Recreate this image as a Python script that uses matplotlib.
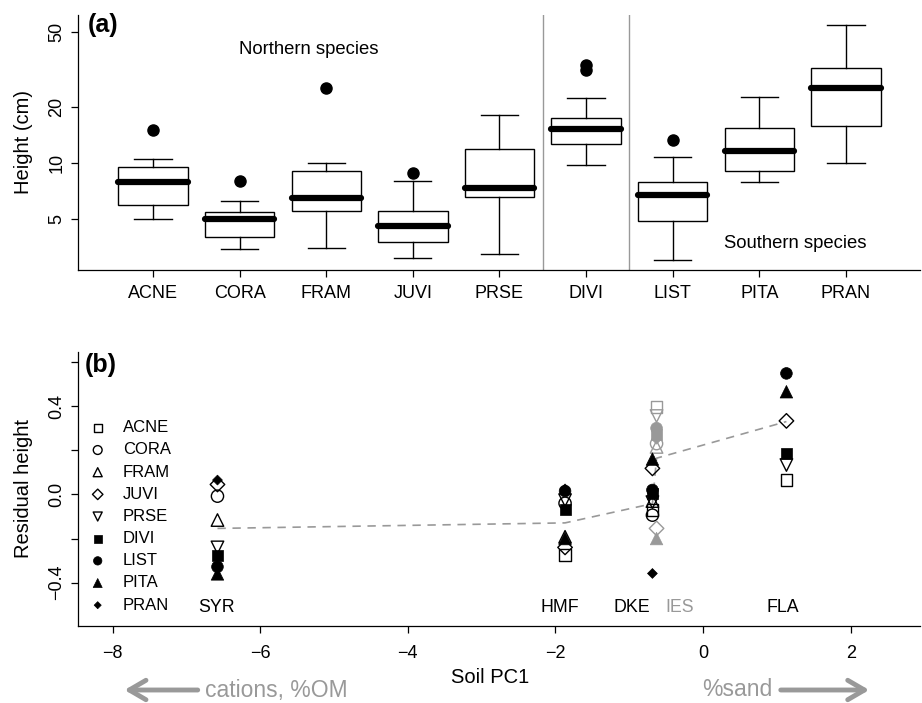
import numpy as np
import matplotlib
matplotlib.use('Agg')
import matplotlib.pyplot as plt
from matplotlib.ticker import NullLocator

plt.rcParams['font.family'] = ['Liberation Sans', 'DejaVu Sans']

# ---- panel (a): height boxplots (cm) ----
species = ['ACNE', 'CORA', 'FRAM', 'JUVI', 'PRSE', 'DIVI', 'LIST', 'PITA', 'PRAN']
whislo = [5.02, 3.47, 3.52, 3.12, 3.27, 9.75, 3.03, 7.91, 10.0]
q1 = [5.96, 4.04, 5.54, 3.79, 6.55, 12.6, 4.90, 9.06, 15.8]
med = [7.91, 5.02, 6.52, 4.59, 7.35, 15.2, 6.72, 11.6, 25.1]
q3 = [9.52, 5.45, 9.10, 5.52, 11.9, 17.3, 7.91, 15.3, 32.3]
whishi = [10.54, 6.29, 10.0, 8.04, 18.1, 22.2, 10.8, 22.6, 54.8]
fliers = [[15.1], [8.04], [25.1], [8.84], [], [31.4, 33.4], [13.3], [], []]

# ---- panel (b): residual height by site ----
sites = ['SYR', 'HMF', 'DKE', 'IES', 'FLA']
site_pc1 = [-6.58, -1.87, -0.686, -0.63, 1.13]
site_color = ['black', 'black', 'black', '#999999', 'black']
site_mean = [-0.154, -0.129, -0.042, 0.164, 0.33]
nan = np.nan
resid = {
    'ACNE': [nan, -0.275, -0.07, 0.397, 0.065],
    'CORA': [-0.008, -0.04, -0.094, 0.23, nan],
    'FRAM': [-0.116, -0.192, -0.03, 0.215, nan],
    'JUVI': [0.045, -0.24, 0.118, -0.154, 0.333],
    'PRSE': [-0.24, -0.026, -0.035, 0.355, 0.133],
    'DIVI': [-0.275, -0.07, 0.005, 0.27, 0.186],
    'LIST': [-0.328, 0.015, 0.02, 0.30, 0.548],
    'PITA': [-0.36, -0.2, 0.16, -0.2, 0.465],
    'PRAN': [0.065, 0.025, -0.358, 0.25, nan],
}

# marker style per species (R pch 0,1,2,5,6,15,16,17,18)
mstyle = {
    'ACNE': ('s', 8.4, False), 'CORA': ('o', 8.8, False), 'FRAM': ('^', 9.0, False),
    'JUVI': ('D', 7.4, False), 'PRSE': ('v', 9.0, False), 'DIVI': ('s', 7.9, True),
    'LIST': ('o', 8.4, True), 'PITA': ('^', 9.0, True), 'PRAN': ('D', 5.0, True),
}

GRAY = '#999999'
W, H = 922, 703
fig = plt.figure(figsize=(W / 100, H / 100), dpi=100)


def style_axes(ax):
    ax.spines['top'].set_visible(False)
    ax.spines['right'].set_visible(False)
    for s in ('left', 'bottom'):
        ax.spines[s].set_linewidth(0.9)
    ax.tick_params(direction='out', length=5, width=0.9, labelsize=13)


# ---------------- (a) ----------------
ax1 = fig.add_axes([78 / W, 1 - 270 / H, 842 / W, 255 / H])
stats = [dict(label=s, whislo=a, q1=b, med=c, q3=d, whishi=e, fliers=f)
         for s, a, b, c, d, e, f in zip(species, whislo, q1, med, q3, whishi, fliers)]
ax1.bxp(stats, positions=np.arange(1, 10), widths=0.8, capwidths=0.43,
        patch_artist=True,
        boxprops=dict(facecolor='white', edgecolor='black', linewidth=1.0),
        whiskerprops=dict(color='black', linewidth=1.0),
        capprops=dict(color='black', linewidth=1.0),
        medianprops=dict(color='black', linewidth=4.5, solid_capstyle='round'),
        flierprops=dict(marker='o', markerfacecolor='black', markeredgecolor='black',
                        markersize=8))
ax1.axvline(5.5, color=GRAY, lw=1, zorder=0)
ax1.axvline(6.5, color=GRAY, lw=1, zorder=0)
ax1.set_yscale('log')
ax1.set_ylim(2.68, 61.8)
ax1.set_xlim(0.134, 9.855)
ax1.set_yticks([5, 10, 20, 50])
ax1.set_yticklabels(['5', '10', '20', '50'], rotation=90, va='center')
ax1.yaxis.set_minor_locator(NullLocator())
ax1.set_xticks(np.arange(1, 10))
ax1.set_xticklabels(species)
style_axes(ax1)
ax1.tick_params(axis='x', pad=6)
ax1.tick_params(axis='y', pad=4)
ax1.set_ylabel('Height (cm)', fontsize=14.5)
ax1.yaxis.set_label_coords(-0.053, 0.5)
ax1.text(0.011, 0.96, '(a)', transform=ax1.transAxes, fontsize=18,
         fontweight='bold', ha='left', va='center')
ax1.text(2.80, 40.2, 'Northern species', fontsize=13.3, ha='center', va='center')
ax1.text(8.41, 3.73, 'Southern species', fontsize=13.3, ha='center', va='center')

# ---------------- (b) ----------------
ax2 = fig.add_axes([78 / W, 1 - 626 / H, 842 / W, 274 / H])
ax2.plot(site_pc1, site_mean, color=GRAY, lw=1.2, dashes=(5, 4), zorder=1)

for i, sp in enumerate(species):
    m, ms, filled = mstyle[sp]
    xs, ys, cs = [], [], []
    for x, y, c in zip(site_pc1, resid[sp], site_color):
        if not np.isnan(y):
            xs.append(x); ys.append(y); cs.append(c)
    if filled:
        ax2.scatter(xs, ys, s=ms ** 2, marker=m, c=cs, edgecolors=cs,
                    linewidths=0.5, label=sp, zorder=2 + i)
    else:
        ax2.scatter(xs, ys, s=ms ** 2, marker=m, facecolors='none', edgecolors=cs,
                    linewidths=1.0, label=sp, zorder=2 + i)

site_label_x = [-6.59, -1.94, -0.97, -0.32, 1.08]
for name, lx, c in zip(sites, site_label_x, site_color):
    ax2.text(lx, -0.51, name, fontsize=12.8, ha='center', va='center', color=c)

ax2.set_xlim(-8.47, 2.94)
ax2.set_ylim(-0.596, 0.645)
ax2.set_xticks([-8, -6, -4, -2, 0, 2])
ax2.set_xticklabels(['\u22128', '\u22126', '\u22124', '\u22122', '0', '2'])
ax2.set_yticks([-0.4, -0.2, 0.0, 0.2, 0.4, 0.6])
ax2.set_yticklabels(['\u22120.4', '', '0.0', '', '0.4', ''], rotation=90, va='center')
style_axes(ax2)
ax2.tick_params(axis='x', pad=9)
ax2.tick_params(axis='y', pad=4)
ax2.set_ylabel('Residual height', fontsize=14.5)
ax2.yaxis.set_label_coords(-0.053, 0.5)
ax2.set_xlabel('Soil PC1', fontsize=14.5)
ax2.xaxis.set_label_coords(0.49, -0.155)
ax2.text(0.008, 0.953, '(b)', transform=ax2.transAxes, fontsize=18,
         fontweight='bold', ha='left', va='center')

leg = ax2.legend(loc='center left', bbox_to_anchor=(0.0135, 0.40), frameon=False,
                 fontsize=12, markerscale=0.72, handlelength=1.0, handletextpad=1.0,
                 labelspacing=0.43, borderpad=0, borderaxespad=0)

# gradient arrows below the axis
ya = 1 - 690 / H
fig.add_artist(matplotlib.patches.FancyArrowPatch(
    (200.5 / W, ya), (121.7 / W, ya), transform=fig.transFigure,
    arrowstyle='->,head_length=0.6,head_width=0.35', mutation_scale=20,
    color=GRAY, lw=3.5))
fig.add_artist(matplotlib.patches.FancyArrowPatch(
    (778 / W, ya), (872 / W, ya), transform=fig.transFigure,
    arrowstyle='->,head_length=0.6,head_width=0.35', mutation_scale=20,
    color=GRAY, lw=3.5))
fig.text(205 / W, ya, 'cations, %OM', color=GRAY, fontsize=16.5, ha='left', va='center')
fig.text(772 / W, ya, '%sand', color=GRAY, fontsize=16.5, ha='right', va='center')

fig.savefig('out.png', dpi=100)
